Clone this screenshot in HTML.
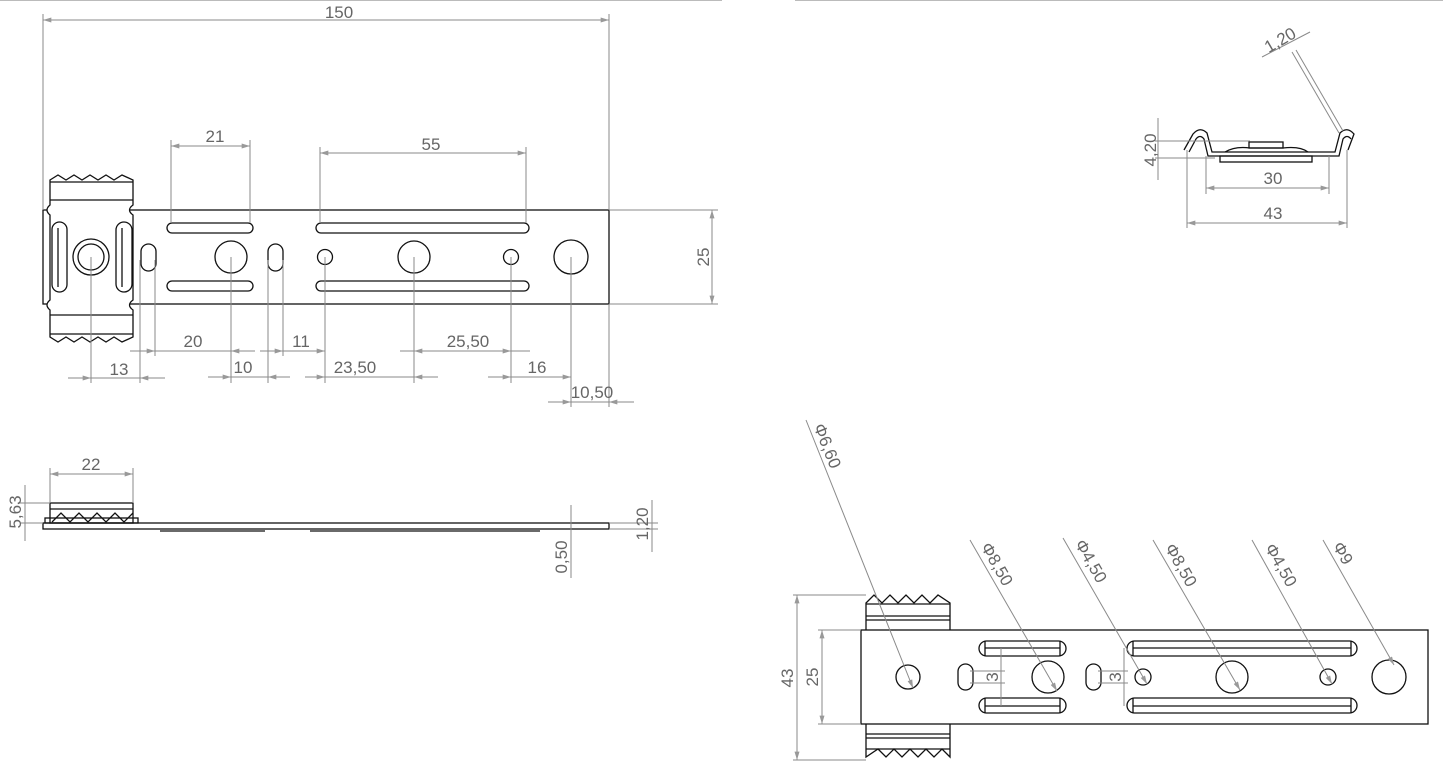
<!DOCTYPE html>
<html><head><meta charset="utf-8"><style>
html,body{margin:0;padding:0;background:#fff;}
svg{display:block;}
text{font-family:"Liberation Sans",sans-serif;font-size:17px;fill:#666;}
.o{fill:none;stroke:#111;stroke-width:1.3;}
.d{fill:none;stroke:#8a8a8a;stroke-width:1;}
.w{fill:#fff;stroke:#111;stroke-width:1.3;}
</style></head><body>
<svg width="1443" height="783" viewBox="0 0 1443 783" xmlns="http://www.w3.org/2000/svg">
<defs>
<marker id="a" viewBox="0 0 10 6" refX="10" refY="3" markerWidth="12" markerHeight="5" orient="auto-start-reverse"><path d="M0,0 L10,3 L0,6z" fill="#999"/></marker>
</defs>
<line x1="0" y1="0.5" x2="722" y2="0.5" stroke="#bbb"/>
<line x1="795" y1="0.5" x2="1443" y2="0.5" stroke="#bbb"/>

<!-- ===== Top-left view ===== -->
<rect class="o" x="43" y="210" width="566" height="94"/>
<path class="w" d="M50,180 L58,175 66,180 74,175 82,180 90,175 98,180 106,175 114,180 122,175 133,180 L133,205 Q126,210 133,215 L133,300 Q126,305 133,310 L133,337 L122,342 114,337 106,342 98,337 90,342 82,337 74,342 66,337 58,342 50,337 L50,310 Q44,305 50,300 L50,215 Q44,210 50,205Z"/>
<line class="o" x1="50" y1="200" x2="133" y2="200"/>
<line class="o" x1="50" y1="315" x2="133" y2="315"/>
<line class="o" x1="50" y1="334" x2="133" y2="334"/>
<line class="o" x1="50" y1="182" x2="133" y2="182"/>
<rect class="o" x="52" y="222" width="15" height="70" rx="7.5"/>
<line class="o" x1="58" y1="228" x2="58" y2="287"/>
<rect class="o" x="116" y="222" width="16" height="70" rx="8"/>
<line class="o" x1="122" y1="228" x2="122" y2="287"/>
<circle class="o" cx="91" cy="257" r="18" stroke-width="2"/>
<circle class="o" cx="91" cy="257" r="13"/>
<rect class="o" x="141" y="244" width="15" height="27" rx="7.5"/>
<rect class="o" x="268" y="244" width="15" height="27" rx="7.5"/>
<rect class="o" x="167" y="223" width="86" height="10" rx="5"/>
<rect class="o" x="167" y="281" width="86" height="10" rx="5"/>
<rect class="o" x="316" y="223" width="213" height="10" rx="5"/>
<rect class="o" x="316" y="281" width="213" height="10" rx="5"/>
<circle class="o" cx="231" cy="257" r="16"/>
<circle class="o" cx="414" cy="257" r="16"/>
<circle class="o" cx="325" cy="257" r="7.5"/>
<circle class="o" cx="511" cy="257" r="7.5"/>
<circle class="o" cx="571" cy="257" r="17"/>
<!-- dims -->
<line class="d" x1="43" y1="14" x2="43" y2="210"/><line class="d" x1="609" y1="14" x2="609" y2="210"/>
<line class="d" x1="43" y1="20" x2="609" y2="20" marker-start="url(#a)" marker-end="url(#a)"/>
<text x="339" y="18" text-anchor="middle">150</text>
<line class="d" x1="171" y1="140" x2="171" y2="223"/><line class="d" x1="250" y1="140" x2="250" y2="223"/>
<line class="d" x1="171" y1="146" x2="250" y2="146" marker-start="url(#a)" marker-end="url(#a)"/>
<text x="215" y="142" text-anchor="middle">21</text>
<line class="d" x1="320" y1="147" x2="320" y2="223"/><line class="d" x1="526" y1="147" x2="526" y2="223"/>
<line class="d" x1="320" y1="153" x2="526" y2="153" marker-start="url(#a)" marker-end="url(#a)"/>
<text x="431" y="150" text-anchor="middle">55</text>
<line class="d" x1="609" y1="210" x2="718" y2="210"/><line class="d" x1="609" y1="304" x2="718" y2="304"/>
<line class="d" x1="712" y1="210" x2="712" y2="304" marker-start="url(#a)" marker-end="url(#a)"/>
<text transform="translate(709,257) rotate(-90)" text-anchor="middle">25</text>
<line class="d" x1="91" y1="257" x2="91" y2="383"/>
<line class="d" x1="140" y1="260" x2="140" y2="383"/>
<line class="d" x1="155" y1="260" x2="155" y2="356"/>
<line class="d" x1="231" y1="257" x2="231" y2="383"/>
<line class="d" x1="268" y1="260" x2="268" y2="383"/>
<line class="d" x1="283" y1="260" x2="283" y2="356"/>
<line class="d" x1="325" y1="257" x2="325" y2="383"/>
<line class="d" x1="414" y1="257" x2="414" y2="383"/>
<line class="d" x1="511" y1="257" x2="511" y2="383"/>
<line class="d" x1="571" y1="257" x2="571" y2="407"/>
<line class="d" x1="609" y1="304" x2="609" y2="407"/>
<line class="d" x1="130" y1="351" x2="155" y2="351" marker-end="url(#a)"/><line class="d" x1="231" y1="351" x2="255" y2="351" marker-start="url(#a)"/>
<line class="d" x1="155" y1="351" x2="231" y2="351"/>
<text x="193" y="347" text-anchor="middle">20</text>
<line class="d" x1="260" y1="351" x2="325" y2="351" /><line class="d" x1="283" y1="351" x2="260" y2="351" marker-start="url(#a)"/><line class="d" x1="300" y1="351" x2="325" y2="351" marker-end="url(#a)"/>
<text x="301" y="347" text-anchor="middle">11</text>
<line class="d" x1="400" y1="351" x2="530" y2="351"/><line class="d" x1="430" y1="351" x2="414" y2="351" marker-end="url(#a)"/><line class="d" x1="490" y1="351" x2="511" y2="351" marker-end="url(#a)"/>
<text x="468" y="347" text-anchor="middle">25,50</text>
<line class="d" x1="68" y1="378" x2="165" y2="378"/><line class="d" x1="70" y1="378" x2="91" y2="378" marker-end="url(#a)"/><line class="d" x1="160" y1="378" x2="140" y2="378" marker-end="url(#a)"/>
<text x="119" y="375" text-anchor="middle">13</text>
<line class="d" x1="208" y1="377" x2="290" y2="377"/><line class="d" x1="210" y1="377" x2="231" y2="377" marker-end="url(#a)"/><line class="d" x1="290" y1="377" x2="268" y2="377" marker-end="url(#a)"/>
<text x="243" y="373" text-anchor="middle">10</text>
<line class="d" x1="305" y1="377" x2="438" y2="377"/><line class="d" x1="305" y1="377" x2="325" y2="377" marker-end="url(#a)"/><line class="d" x1="436" y1="377" x2="414" y2="377" marker-end="url(#a)"/>
<text x="355" y="373" text-anchor="middle">23,50</text>
<line class="d" x1="488" y1="377" x2="571" y2="377"/><line class="d" x1="490" y1="377" x2="511" y2="377" marker-end="url(#a)"/><line class="d" x1="550" y1="377" x2="571" y2="377" marker-end="url(#a)"/>
<text x="537" y="373" text-anchor="middle">16</text>
<line class="d" x1="548" y1="402" x2="634" y2="402"/><line class="d" x1="550" y1="402" x2="571" y2="402" marker-end="url(#a)"/><line class="d" x1="632" y1="402" x2="609" y2="402" marker-end="url(#a)"/>
<text x="592" y="398" text-anchor="middle">10,50</text>

<!-- ===== Side view ===== -->
<rect class="o" x="43" y="523" width="566" height="6"/>
<rect class="o" x="45" y="518" width="93" height="5"/>
<rect class="o" x="50" y="503" width="83" height="20"/>
<line class="o" x1="50" y1="509" x2="133" y2="509"/>
<path class="o" d="M52,522 L61,513 70,522 79,513 88,522 97,513 106,522 115,513 124,522 133,513"/>
<line class="o" x1="160" y1="531" x2="265" y2="531"/><line class="o" x1="310" y1="531" x2="540" y2="531"/>
<line class="d" x1="50" y1="468" x2="50" y2="503"/><line class="d" x1="133" y1="468" x2="133" y2="503"/>
<line class="d" x1="50" y1="474" x2="133" y2="474" marker-start="url(#a)" marker-end="url(#a)"/>
<text x="91" y="470" text-anchor="middle">22</text>
<line class="d" x1="20" y1="503" x2="50" y2="503"/><line class="d" x1="20" y1="523" x2="43" y2="523"/>
<line class="d" x1="25" y1="485" x2="25" y2="541"/>
<text transform="translate(21,512) rotate(-90)" text-anchor="middle">5,63</text>
<line class="d" x1="609" y1="523" x2="658" y2="523"/><line class="d" x1="609" y1="529" x2="658" y2="529"/>
<line class="d" x1="652" y1="500" x2="652" y2="552"/>
<text transform="translate(648,524) rotate(-90)" text-anchor="middle">1,20</text>
<line class="d" x1="571" y1="505" x2="571" y2="578"/>
<text transform="translate(567,557) rotate(-90)" text-anchor="middle">0,50</text>

<!-- ===== Top-right profile ===== -->
<g class="o" fill="none">
<path d="M1184,150 L1193,134 Q1200,126 1207,133 L1212,152 L1335,152 L1340,133 Q1347,126 1354,134 L1348,150"/>
<path d="M1189,152 L1196,139 Q1200,134 1204,139 L1208,156 L1339,156 L1343,139 Q1347,134 1351,139"/>
<rect x="1220" y="156" width="92" height="6"/>
<rect x="1249" y="142" width="34" height="6"/>
<path d="M1225,152 Q1235,146 1250,148 L1283,148 Q1300,146 1308,152"/>
</g>
<line class="d" x1="1155" y1="141" x2="1250" y2="141"/><line class="d" x1="1155" y1="158" x2="1215" y2="158"/>
<line class="d" x1="1158" y1="118" x2="1158" y2="180"/>
<text transform="translate(1156,150) rotate(-90)" text-anchor="middle">4,20</text>
<line class="d" x1="1206" y1="156" x2="1206" y2="194"/><line class="d" x1="1329" y1="156" x2="1329" y2="194"/>
<line class="d" x1="1206" y1="188" x2="1329" y2="188" marker-start="url(#a)" marker-end="url(#a)"/>
<text x="1273" y="184" text-anchor="middle">30</text>
<line class="d" x1="1187" y1="150" x2="1187" y2="228"/><line class="d" x1="1347" y1="150" x2="1347" y2="228"/>
<line class="d" x1="1187" y1="223" x2="1347" y2="223" marker-start="url(#a)" marker-end="url(#a)"/>
<text x="1273" y="219" text-anchor="middle">43</text>
<line class="d" x1="1296" y1="50" x2="1343" y2="131"/><line class="d" x1="1292" y1="52" x2="1339" y2="133"/>
<line class="d" x1="1262" y1="57" x2="1310" y2="32"/>
<text transform="translate(1283,45) rotate(-30)" text-anchor="middle">1,20</text>

<!-- ===== Bottom-right view ===== -->
<path class="w" d="M866,603 L874,595 882,603 890,595 898,603 906,595 914,603 922,595 930,603 938,595 950,603 L950,757 L942,749 934,757 926,749 918,757 910,749 902,757 894,749 886,757 878,749 866,757Z"/>
<line class="o" x1="866" y1="616" x2="950" y2="616"/><line class="o" x1="866" y1="620" x2="950" y2="620"/>
<line class="o" x1="866" y1="734" x2="950" y2="734"/><line class="o" x1="866" y1="738" x2="950" y2="738"/>
<line class="o" x1="866" y1="604" x2="950" y2="604"/><line class="o" x1="866" y1="749" x2="950" y2="749"/>
<rect class="w" x="861" y="630" width="567" height="94"/>
<rect class="o" x="979" y="641" width="87" height="15" rx="7.5"/><line class="o" x1="985" y1="648" x2="1060" y2="648"/>
<rect class="o" x="979" y="698" width="87" height="15" rx="7.5"/><line class="o" x1="985" y1="706" x2="1060" y2="706"/>
<rect class="o" x="1127" y="641" width="230" height="15" rx="7.5"/><line class="o" x1="1133" y1="648" x2="1351" y2="648"/>
<rect class="o" x="1127" y="698" width="230" height="15" rx="7.5"/><line class="o" x1="1133" y1="706" x2="1351" y2="706"/>
<line class="o" x1="985" y1="641" x2="985" y2="656"/><line class="o" x1="985" y1="698" x2="985" y2="713"/>
<line class="o" x1="1133" y1="641" x2="1133" y2="656"/><line class="o" x1="1133" y1="698" x2="1133" y2="713"/>
<line class="o" x1="1060" y1="641" x2="1060" y2="656"/><line class="o" x1="1060" y1="698" x2="1060" y2="713"/>
<line class="o" x1="1351" y1="641" x2="1351" y2="656"/><line class="o" x1="1351" y1="698" x2="1351" y2="713"/>
<rect class="o" x="958" y="664" width="15" height="26" rx="7.5"/>
<rect class="o" x="1086" y="664" width="15" height="26" rx="7.5"/>
<circle class="o" cx="908" cy="677" r="12"/>
<circle class="o" cx="1048" cy="677" r="16"/>
<circle class="o" cx="1143" cy="677" r="8"/>
<circle class="o" cx="1232" cy="677" r="16"/>
<circle class="o" cx="1328" cy="677" r="8"/>
<circle class="o" cx="1389" cy="677" r="17"/>
<line class="d" x1="970" y1="671" x2="1005" y2="671"/><line class="d" x1="970" y1="683" x2="1005" y2="683"/>
<line class="d" x1="1001" y1="648" x2="1001" y2="706"/>
<text transform="translate(998,677) rotate(-90)" text-anchor="middle" font-size="15">3</text>
<line class="d" x1="1098" y1="671" x2="1128" y2="671"/><line class="d" x1="1098" y1="683" x2="1128" y2="683"/>
<line class="d" x1="1124" y1="648" x2="1124" y2="706"/>
<text transform="translate(1121,677) rotate(-90)" text-anchor="middle" font-size="15">3</text>
<line class="d" x1="793" y1="595" x2="866" y2="595"/><line class="d" x1="793" y1="760" x2="866" y2="760"/>
<line class="d" x1="797" y1="595" x2="797" y2="760" marker-start="url(#a)" marker-end="url(#a)"/>
<text transform="translate(793,678) rotate(-90)" text-anchor="middle">43</text>
<line class="d" x1="818" y1="630" x2="861" y2="630"/><line class="d" x1="818" y1="724" x2="861" y2="724"/>
<line class="d" x1="822" y1="630" x2="822" y2="724" marker-start="url(#a)" marker-end="url(#a)"/>
<text transform="translate(818,677) rotate(-90)" text-anchor="middle">25</text>
<line class="d" x1="806" y1="420" x2="913" y2="688" marker-end="url(#a)"/>
<text transform="translate(822,448) rotate(68)" text-anchor="middle">Φ6,60</text>
<line class="d" x1="970" y1="540" x2="1057" y2="691" marker-end="url(#a)"/>
<text transform="translate(992,567) rotate(60)" text-anchor="middle">Φ8,50</text>
<line class="d" x1="1063" y1="538" x2="1147" y2="684" marker-end="url(#a)"/>
<text transform="translate(1086,564) rotate(60)" text-anchor="middle">Φ4,50</text>
<line class="d" x1="1153" y1="540" x2="1240" y2="690" marker-end="url(#a)"/>
<text transform="translate(1176,568) rotate(60)" text-anchor="middle">Φ8,50</text>
<line class="d" x1="1252" y1="540" x2="1332" y2="684" marker-end="url(#a)"/>
<text transform="translate(1276,568) rotate(60)" text-anchor="middle">Φ4,50</text>
<line class="d" x1="1323" y1="540" x2="1394" y2="665" marker-end="url(#a)"/>
<text transform="translate(1338,556) rotate(60)" text-anchor="middle">Φ9</text>
</svg>
</body></html>
